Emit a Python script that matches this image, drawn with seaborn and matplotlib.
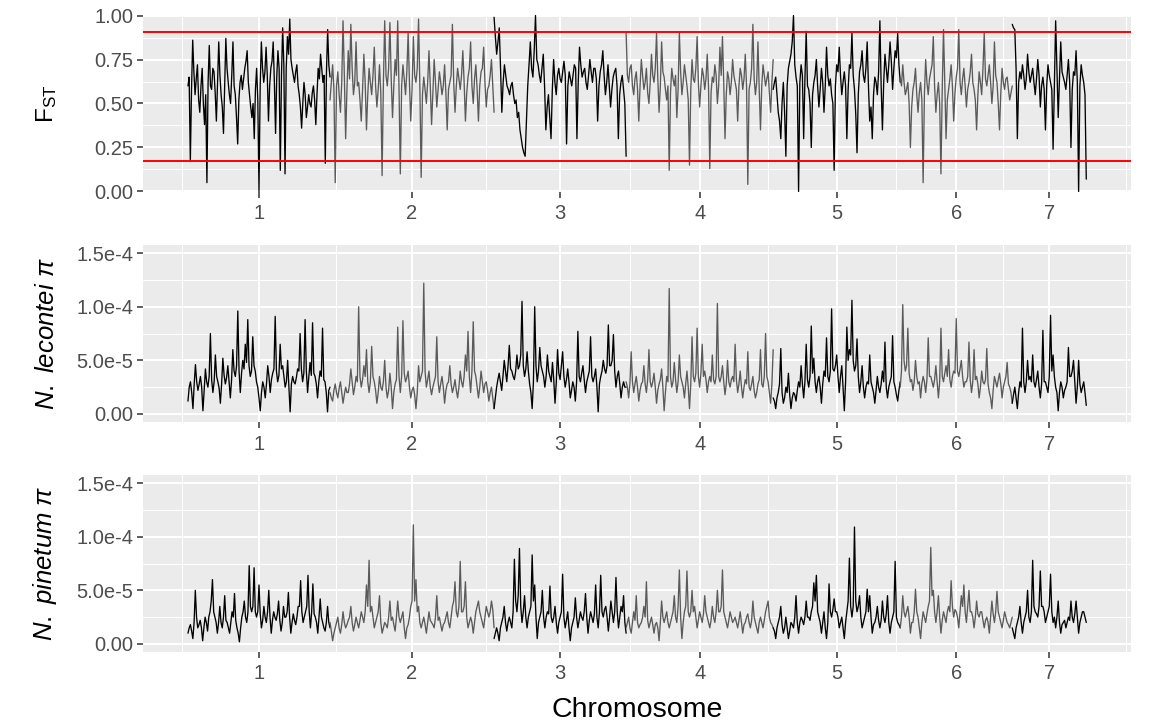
import numpy as np
import pandas as pd
import seaborn as sns
import matplotlib.pyplot as plt
from matplotlib.ticker import FixedLocator

# chromosome layout (Mb)
chrom_names = ["1", "2", "3", "4", "5", "6", "7"]
chrom_len_mb = [42.6, 49.2, 39.6, 44.1, 38.1, 33.6, 22.2]

# FST per window
fst_chr1 = [0.60, 0.65, 0.17, 0.58, 0.86, 0.68, 0.55, 0.64, 0.72, 0.52, 0.45, 0.60, 0.70, 0.50, 0.38, 0.55,
            0.05, 0.62, 0.83, 0.60, 0.58, 0.70, 0.68, 0.56, 0.40, 0.62, 0.85, 0.66, 0.55, 0.48, 0.33, 0.60,
            0.87, 0.70, 0.62, 0.55, 0.50, 0.66, 0.85, 0.60, 0.55, 0.42, 0.27, 0.52, 0.62, 0.66, 0.58, 0.64,
            0.70, 0.74, 0.80, 0.62, 0.55, 0.48, 0.42, 0.50, 0.30, 0.58, 0.70, 0.52, 0.00, 0.60, 0.85, 0.70,
            0.62, 0.68, 0.82, 0.66, 0.40, 0.60, 0.70, 0.74, 0.85, 0.62, 0.33, 0.65, 0.80, 0.70, 0.12, 0.66,
            0.93, 0.72, 0.10, 0.70, 0.88, 0.78, 0.98, 0.75, 0.70, 0.66, 0.62, 0.68, 0.72, 0.60, 0.55, 0.48,
            0.36, 0.50, 0.62, 0.55, 0.42, 0.48, 0.55, 0.50, 0.48, 0.56, 0.60, 0.52, 0.38, 0.55, 0.70, 0.64,
            0.78, 0.70, 0.62, 0.66, 0.16, 0.68, 0.92, 0.72, 0.65]
fst_chr2 = [0.52, 0.62, 0.72, 0.58, 0.05, 0.60, 0.68, 0.55, 0.45, 0.62, 0.97, 0.66, 0.30, 0.58, 0.80, 0.64,
            0.95, 0.70, 0.55, 0.62, 0.85, 0.60, 0.62, 0.52, 0.40, 0.58, 0.78, 0.62, 0.35, 0.55, 0.70, 0.62,
            0.55, 0.66, 0.82, 0.60, 0.48, 0.58, 0.72, 0.56, 0.09, 0.62, 0.97, 0.66, 0.60, 0.70, 0.96, 0.64,
            0.42, 0.60, 0.75, 0.66, 0.97, 0.58, 0.10, 0.60, 0.72, 0.64, 0.55, 0.68, 0.90, 0.62, 0.40, 0.58,
            0.88, 0.66, 0.62, 0.70, 0.98, 0.60, 0.08, 0.55, 0.65, 0.58, 0.50, 0.62, 0.80, 0.60, 0.38, 0.56,
            0.75, 0.62, 0.48, 0.58, 0.68, 0.62, 0.55, 0.60, 0.72, 0.56, 0.35, 0.58, 0.62, 0.66, 0.95, 0.62,
            0.45, 0.60, 0.70, 0.64, 0.58, 0.66, 0.80, 0.62, 0.40, 0.56, 0.65, 0.70, 0.85, 0.60, 0.50, 0.64,
            0.72, 0.58, 0.40, 0.60, 0.68, 0.70, 0.82, 0.62, 0.48, 0.58, 0.60, 0.66, 0.75, 0.60, 0.45]
fst_chr3 = [0.99, 0.88, 0.78, 0.85, 0.93, 0.70, 0.45, 0.62, 0.72, 0.66, 0.60, 0.58, 0.55, 0.60, 0.62, 0.55,
            0.50, 0.52, 0.42, 0.45, 0.35, 0.30, 0.25, 0.22, 0.20, 0.40, 0.60, 0.72, 0.85, 0.70, 0.65, 0.80,
            1.00, 0.75, 0.72, 0.66, 0.62, 0.70, 0.78, 0.60, 0.35, 0.48, 0.55, 0.42, 0.30, 0.58, 0.75, 0.62,
            0.55, 0.66, 0.70, 0.64, 0.62, 0.68, 0.74, 0.66, 0.27, 0.60, 0.68, 0.64, 0.60, 0.66, 0.72, 0.70,
            0.30, 0.62, 0.82, 0.72, 0.65, 0.68, 0.70, 0.62, 0.58, 0.66, 0.75, 0.68, 0.62, 0.70, 0.70, 0.64,
            0.40, 0.60, 0.68, 0.72, 0.80, 0.66, 0.55, 0.62, 0.72, 0.60, 0.48, 0.58, 0.65, 0.68, 0.70, 0.60,
            0.30, 0.55, 0.62, 0.66, 0.58, 0.50, 0.20]
fst_chr4 = [0.90, 0.66, 0.62, 0.70, 0.72, 0.60, 0.55, 0.64, 0.68, 0.58, 0.40, 0.60, 0.75, 0.66, 0.58, 0.62,
            0.70, 0.56, 0.50, 0.62, 0.78, 0.66, 0.62, 0.70, 0.90, 0.64, 0.45, 0.60, 0.85, 0.68, 0.65, 0.58,
            0.52, 0.60, 0.12, 0.56, 0.70, 0.64, 0.60, 0.66, 0.42, 0.58, 0.90, 0.68, 0.55, 0.62, 0.72, 0.66,
            0.60, 0.52, 0.15, 0.58, 0.75, 0.64, 0.62, 0.70, 0.88, 0.62, 0.48, 0.60, 0.70, 0.66, 0.58, 0.64,
            0.78, 0.60, 0.13, 0.56, 0.65, 0.62, 0.72, 0.66, 0.50, 0.60, 0.82, 0.66, 0.88, 0.62, 0.30, 0.55,
            0.68, 0.64, 0.55, 0.62, 0.75, 0.66, 0.62, 0.58, 0.40, 0.60, 0.70, 0.66, 0.58, 0.64, 0.78, 0.60,
            0.04, 0.58, 0.62, 0.70, 0.95, 0.64, 0.55, 0.62, 0.85, 0.58, 0.35, 0.60, 0.72, 0.66, 0.60, 0.64,
            0.68, 0.56, 0.45, 0.62, 0.75]
fst_chr5 = [0.58, 0.62, 0.65, 0.55, 0.45, 0.40, 0.30, 0.50, 0.62, 0.45, 0.20, 0.60, 0.70, 0.74, 0.78, 0.85,
            1.00, 0.72, 0.65, 0.60, 0.00, 0.62, 0.72, 0.66, 0.30, 0.64, 0.91, 0.60, 0.58, 0.50, 0.25, 0.55,
            0.62, 0.66, 0.75, 0.60, 0.48, 0.58, 0.70, 0.62, 0.45, 0.60, 0.82, 0.66, 0.60, 0.64, 0.55, 0.50,
            0.12, 0.60, 0.72, 0.68, 0.82, 0.66, 0.55, 0.62, 0.68, 0.60, 0.30, 0.58, 0.72, 0.70, 0.90, 0.66,
            0.58, 0.44, 0.22, 0.55, 0.68, 0.72, 0.80, 0.66, 0.62, 0.70, 0.85, 0.60, 0.40, 0.48, 0.30, 0.55,
            0.65, 0.62, 0.55, 0.68, 0.97, 0.60, 0.35, 0.62, 0.78, 0.70, 0.62, 0.72, 0.85, 0.74, 0.58, 0.70,
            0.80, 0.76, 0.90, 0.72, 0.62]
fst_chr6 = [0.65, 0.60, 0.72, 0.62, 0.55, 0.58, 0.62, 0.50, 0.25, 0.48, 0.58, 0.62, 0.70, 0.55, 0.45, 0.56,
            0.62, 0.52, 0.05, 0.55, 0.75, 0.62, 0.55, 0.64, 0.68, 0.72, 0.88, 0.60, 0.45, 0.55, 0.62, 0.50,
            0.10, 0.58, 0.92, 0.62, 0.30, 0.52, 0.58, 0.64, 0.72, 0.60, 0.40, 0.56, 0.65, 0.70, 0.92, 0.62,
            0.55, 0.64, 0.70, 0.60, 0.48, 0.58, 0.62, 0.68, 0.78, 0.62, 0.58, 0.52, 0.35, 0.55, 0.68, 0.62,
            0.55, 0.70, 0.90, 0.64, 0.60, 0.66, 0.72, 0.62, 0.50, 0.60, 0.85, 0.66, 0.62, 0.50, 0.35, 0.56,
            0.70, 0.62, 0.58, 0.64, 0.65, 0.58, 0.52, 0.56, 0.60]
fst_chr7 = [0.95, 0.93, 0.92, 0.70, 0.30, 0.62, 0.68, 0.64, 0.72, 0.66, 0.58, 0.64, 0.78, 0.68, 0.62, 0.66,
            0.70, 0.62, 0.55, 0.64, 0.75, 0.66, 0.48, 0.60, 0.65, 0.58, 0.35, 0.60, 0.72, 0.66, 0.62, 0.58,
            0.24, 0.60, 0.97, 0.70, 0.42, 0.64, 0.85, 0.68, 0.65, 0.62, 0.58, 0.66, 0.75, 0.62, 0.25, 0.58,
            0.68, 0.66, 0.80, 0.62, 0.00, 0.60, 0.72, 0.66, 0.62, 0.55, 0.07]
fst_upper = 0.905
fst_lower = 0.172

# N. lecontei nucleotide diversity (x 1e-5)
lec_chr1 = [1.2, 2.5, 3.0, 2.0, 0.5, 2.8, 4.6, 3.0, 2.2, 2.8, 3.5, 2.5, 0.3, 2.2, 4.2, 3.0, 2.5, 3.5, 7.5, 3.2,
            2.0, 3.0, 5.5, 3.5, 3.0, 2.4, 1.0, 2.8, 5.2, 3.6, 2.8, 3.4, 4.5, 3.0, 1.5, 3.2, 6.0, 4.0, 3.5, 4.5,
            9.6, 4.0, 2.0, 3.8, 5.0, 4.2, 6.5, 4.8, 8.8, 4.5, 3.5, 4.0, 7.2, 4.5, 4.0, 3.0, 2.5, 1.5, 0.3, 2.0,
            3.0, 2.5, 1.5, 2.8, 4.5, 3.5, 2.0, 3.2, 3.8, 4.2, 9.1, 4.0, 3.0, 3.6, 6.5, 4.2, 4.5, 3.5, 2.5, 3.0,
            5.0, 2.5, 0.2, 2.8, 3.5, 3.0, 2.8, 3.4, 4.2, 4.0, 7.5, 4.2, 3.0, 3.8, 8.8, 4.0, 2.0, 3.5, 4.8, 3.6,
            8.5, 3.8, 3.5, 2.8, 1.5, 3.0, 4.0, 3.5, 8.0, 3.2, 3.0, 2.0, 0.2, 2.2, 2.5]
lec_chr2 = [2.0, 1.5, 1.2, 2.2, 2.8, 2.0, 1.5, 2.4, 3.0, 2.0, 1.0, 1.8, 2.5, 2.0, 2.0, 2.8, 4.2, 3.0, 1.8, 2.5,
            3.5, 3.0, 10.0, 3.5, 2.5, 3.2, 4.5, 3.5, 6.0, 3.0, 2.0, 3.0, 6.3, 3.5, 3.0, 2.2, 1.0, 2.0, 3.5, 2.5,
            2.2, 3.0, 5.0, 2.5, 1.5, 2.2, 3.8, 2.5, 0.5, 2.0, 2.8, 3.2, 8.1, 3.5, 2.0, 3.5, 8.7, 3.8, 3.0, 3.4,
            4.0, 2.5, 1.5, 2.2, 2.5, 1.8, 0.5, 2.0, 4.5, 3.0, 3.5, 4.0, 12.2, 4.0, 2.5, 3.2, 4.0, 2.5, 1.8, 2.5,
            3.0, 3.5, 7.2, 3.0, 2.0, 2.8, 3.5, 2.5, 1.0, 2.2, 2.8, 3.0, 4.5, 2.8, 2.0, 2.5, 3.2, 2.2, 1.5, 2.5,
            4.0, 3.0, 2.5, 3.5, 5.5, 4.0, 7.7, 3.5, 2.0, 4.0, 8.6, 4.0, 3.5, 2.5, 1.5, 2.5, 4.0, 3.0, 2.0, 2.8,
            3.0, 2.2, 1.2, 2.0, 2.5, 1.5, 0.5]
lec_chr3 = [0.5, 1.5, 2.5, 3.2, 3.8, 3.0, 2.2, 3.5, 5.0, 4.0, 3.0, 4.5, 6.4, 4.2, 4.0, 3.5, 3.2, 4.0, 5.5, 4.2,
            4.5, 5.5, 10.5, 4.5, 3.5, 4.2, 5.8, 4.0, 2.8, 2.0, 0.5, 3.0, 10.0, 4.5, 3.0, 4.0, 6.2, 4.5, 4.0, 3.5,
            2.5, 3.5, 5.5, 4.0, 3.5, 3.0, 4.8, 3.2, 1.0, 3.0, 6.0, 3.8, 3.2, 4.5, 5.8, 3.5, 2.5, 3.2, 4.2, 3.0,
            1.5, 2.2, 3.0, 2.5, 1.2, 3.0, 7.7, 3.5, 3.0, 3.8, 4.5, 3.2, 2.0, 3.0, 3.5, 4.0, 7.2, 3.5, 3.0, 3.5,
            4.2, 2.5, 0.2, 2.8, 3.5, 4.0, 5.0, 4.2, 3.8, 4.5, 8.3, 4.5, 4.5, 5.0, 7.4, 4.0, 2.5, 3.5, 4.0, 2.8,
            1.5, 2.5, 3.0, 2.5, 2.5]
lec_chr4 = [3.0, 2.5, 1.5, 2.8, 5.8, 3.0, 2.0, 2.8, 3.5, 2.5, 1.2, 2.2, 2.8, 3.0, 4.5, 2.8, 2.0, 3.2, 6.0, 3.0,
            2.5, 3.0, 3.8, 2.5, 1.0, 2.2, 2.8, 3.2, 4.2, 2.5, 0.3, 2.0, 3.5, 3.0, 11.7, 3.5, 2.5, 3.0, 4.8, 3.2,
            2.0, 3.0, 5.5, 3.5, 3.0, 2.5, 1.5, 2.8, 4.0, 2.5, 0.5, 2.8, 7.2, 3.5, 3.0, 3.8, 8.0, 3.5, 2.5, 3.8,
            6.5, 3.5, 4.0, 3.2, 2.0, 3.0, 3.5, 3.0, 5.5, 3.2, 2.8, 3.5, 10.3, 3.5, 3.0, 3.5, 4.5, 3.0, 1.8, 2.8,
            5.0, 3.0, 2.5, 3.2, 3.5, 3.0, 6.5, 3.2, 2.0, 2.8, 4.0, 2.5, 1.5, 2.5, 3.2, 2.8, 5.8, 2.5, 2.2, 2.8,
            3.5, 2.2, 1.5, 2.0, 2.8, 3.2, 6.0, 2.8, 2.5, 3.5, 7.5, 3.5, 3.0, 2.0, 1.0, 2.8, 6.0]
lec_chr5 = [1.5, 1.2, 0.5, 1.5, 2.0, 2.8, 6.1, 2.0, 1.0, 1.5, 2.5, 2.0, 3.8, 1.8, 0.5, 1.5, 2.0, 1.8, 1.2, 2.2,
            3.0, 2.5, 4.5, 2.8, 1.5, 3.0, 6.5, 3.2, 2.5, 3.5, 8.2, 3.8, 5.2, 3.0, 2.0, 3.0, 3.5, 2.5, 1.0, 2.8,
            4.0, 3.5, 7.1, 3.5, 3.0, 4.0, 9.8, 4.2, 4.0, 4.5, 5.5, 3.5, 2.0, 3.5, 4.5, 2.5, 0.3, 3.0, 8.1, 5.0,
            6.0, 5.5, 10.6, 5.0, 4.0, 4.5, 7.0, 3.5, 2.0, 3.0, 4.5, 2.5, 1.5, 2.5, 3.0, 2.8, 5.5, 3.0, 2.5, 2.0,
            1.0, 2.2, 3.5, 2.5, 2.0, 2.8, 4.0, 3.0, 6.7, 2.5, 1.5, 2.5, 3.0, 3.5, 7.3, 3.0, 2.5, 1.8, 1.2, 2.2,
            3.0]
lec_chr6 = [2.5, 4.0, 10.2, 5.0, 4.0, 4.5, 8.0, 3.8, 3.0, 3.2, 2.2, 3.0, 5.0, 3.5, 2.8, 3.0, 1.5, 2.8, 3.5, 3.0,
            2.0, 3.2, 7.1, 3.5, 3.5, 3.0, 2.5, 3.2, 4.5, 3.0, 1.5, 3.0, 8.0, 3.5, 3.0, 3.8, 4.5, 3.5, 6.0, 3.2,
            2.5, 3.5, 4.0, 3.8, 8.9, 4.0, 3.5, 4.2, 5.0, 3.5, 2.5, 3.0, 3.0, 3.5, 6.7, 3.2, 2.0, 3.0, 6.0, 3.2,
            3.5, 2.8, 1.5, 2.5, 4.0, 3.0, 2.8, 3.2, 6.1, 2.8, 2.0, 1.5, 0.5, 2.2, 3.5, 3.0, 2.5, 3.2, 3.8, 2.8,
            1.5, 2.5, 3.0, 3.5, 4.8, 2.8, 2.5, 2.0, 1.0]
lec_chr7 = [1.0, 1.8, 2.5, 1.5, 0.5, 2.0, 3.0, 2.5, 8.0, 3.0, 2.0, 3.0, 5.0, 3.2, 3.5, 3.0, 5.5, 3.0, 2.5, 3.2,
            4.0, 2.5, 1.5, 2.8, 7.8, 3.0, 3.0, 2.5, 2.0, 3.5, 9.2, 4.0, 5.5, 3.5, 2.5, 2.0, 0.3, 2.0, 3.0, 2.5,
            1.5, 2.2, 2.5, 3.0, 6.2, 3.5, 3.5, 4.0, 5.0, 3.0, 1.0, 2.5, 5.0, 2.8, 2.0, 2.5, 3.0, 2.0, 0.8]

# N. pinetum nucleotide diversity (x 1e-5)
pin_chr1 = [1.0, 1.5, 1.8, 1.2, 0.5, 2.0, 5.0, 2.5, 1.5, 1.8, 2.2, 1.5, 0.3, 1.5, 2.5, 2.0, 1.2, 2.5, 3.0, 4.0,
            6.0, 3.0, 2.5, 2.0, 1.0, 2.0, 3.5, 2.0, 1.5, 2.5, 4.5, 2.2, 2.0, 1.5, 1.0, 2.0, 3.0, 2.5, 4.7, 2.2,
            1.5, 1.0, 0.2, 1.5, 2.5, 3.0, 4.0, 2.5, 2.0, 3.0, 7.3, 3.5, 3.0, 3.5, 7.1, 3.0, 2.5, 3.0, 5.5, 2.8,
            1.5, 2.2, 3.5, 2.5, 2.0, 3.0, 5.0, 2.5, 1.0, 2.2, 3.0, 2.5, 2.2, 2.8, 4.0, 2.2, 1.2, 2.0, 3.5, 2.5,
            2.5, 3.0, 4.8, 2.5, 1.0, 2.0, 2.8, 2.2, 1.8, 2.5, 3.5, 3.5, 5.9, 3.0, 2.0, 2.5, 3.0, 3.5, 6.4, 3.0,
            1.5, 3.0, 5.6, 2.8, 2.5, 2.0, 1.0, 2.5, 4.2, 2.5, 2.0, 1.5, 1.2, 2.0, 3.5, 2.0, 1.5]
pin_chr2 = [2.0, 1.2, 0.3, 1.0, 1.5, 2.0, 2.5, 1.5, 1.0, 1.8, 3.0, 2.0, 1.5, 1.8, 2.2, 2.5, 3.5, 2.0, 1.2, 1.8,
            2.5, 2.0, 1.5, 2.2, 3.0, 2.5, 2.0, 3.0, 5.5, 3.5, 7.8, 3.0, 3.5, 2.5, 1.5, 2.0, 2.5, 3.0, 4.5, 2.0,
            1.0, 1.5, 2.0, 1.8, 1.5, 2.5, 4.0, 2.2, 2.5, 1.8, 1.2, 2.5, 4.0, 2.5, 2.0, 2.5, 3.0, 1.5, 0.5, 1.5,
            1.8, 2.5, 3.5, 4.0, 11.1, 4.0, 6.0, 3.0, 3.5, 2.0, 1.5, 2.0, 2.5, 1.8, 1.0, 2.0, 3.0, 2.2, 2.0, 1.8,
            1.5, 2.5, 4.5, 2.2, 2.5, 1.8, 1.2, 1.8, 2.0, 2.5, 3.0, 2.0, 1.5, 2.5, 3.5, 4.0, 5.8, 3.0, 2.5, 3.5,
            7.7, 3.0, 3.0, 3.5, 5.8, 2.5, 1.5, 2.0, 2.5, 2.0, 1.0, 2.0, 3.0, 3.5, 4.0, 3.0, 2.5, 2.0, 1.5, 2.5,
            3.5, 3.0, 2.5, 3.0, 4.0, 3.2, 1.5]
pin_chr3 = [0.5, 1.0, 1.5, 1.0, 0.3, 1.5, 2.0, 2.5, 3.5, 2.0, 1.2, 2.0, 2.5, 2.0, 1.5, 3.0, 7.9, 4.0, 3.0, 4.5,
            8.9, 3.5, 2.0, 3.0, 4.5, 2.5, 1.5, 2.5, 3.0, 3.5, 8.3, 4.0, 5.5, 2.5, 0.5, 2.0, 2.5, 3.0, 5.0, 2.5,
            1.5, 2.5, 3.0, 2.8, 5.4, 2.5, 2.0, 2.5, 3.5, 2.0, 1.0, 2.0, 2.5, 3.0, 6.5, 2.5, 1.5, 2.2, 3.0, 1.5,
            0.3, 1.5, 2.0, 2.5, 4.3, 2.5, 1.5, 2.2, 3.0, 2.5, 2.2, 3.0, 4.7, 2.5, 1.0, 2.2, 3.0, 2.5, 2.0, 2.8,
            5.5, 2.5, 1.5, 3.0, 6.4, 3.0, 2.5, 3.2, 3.5, 2.5, 1.2, 2.5, 4.0, 3.0, 2.0, 3.0, 6.2, 3.0, 1.5, 2.5,
            3.5, 3.0, 4.5, 2.0, 1.0]
pin_chr4 = [1.5, 2.0, 2.5, 1.5, 1.0, 2.0, 3.0, 2.2, 4.5, 2.0, 1.5, 1.8, 2.0, 2.5, 3.5, 2.5, 5.8, 2.2, 1.5, 2.0,
            2.5, 1.8, 1.0, 1.8, 2.0, 1.5, 0.3, 2.0, 4.0, 2.5, 2.0, 2.5, 3.0, 2.0, 1.5, 2.0, 2.5, 3.0, 4.5, 2.5,
            2.0, 3.5, 6.9, 2.5, 0.5, 2.0, 3.0, 3.5, 6.8, 3.0, 2.5, 3.0, 5.0, 3.0, 3.5, 2.5, 1.5, 2.2, 3.0, 2.5,
            2.0, 2.8, 4.5, 3.0, 2.5, 2.0, 1.5, 2.2, 3.5, 2.5, 2.0, 3.0, 5.0, 3.0, 3.0, 3.5, 6.9, 3.0, 2.5, 2.0,
            1.5, 2.2, 3.0, 2.5, 2.0, 2.2, 2.5, 2.0, 1.5, 2.2, 3.0, 2.0, 1.0, 1.8, 2.0, 2.5, 2.8, 2.0, 1.5, 2.2,
            4.0, 2.5, 2.0, 1.5, 1.0, 2.0, 2.5, 2.0, 1.5, 2.2, 3.0, 3.5, 4.0, 2.5, 2.0, 1.8, 1.5]
pin_chr5 = [1.5, 1.2, 0.5, 1.5, 2.0, 2.5, 3.5, 1.8, 1.0, 1.5, 2.5, 1.5, 0.5, 1.2, 2.0, 1.8, 1.5, 2.5, 4.5, 2.0,
            1.0, 2.0, 2.5, 2.2, 1.8, 2.5, 4.0, 2.5, 2.5, 2.2, 3.0, 3.5, 5.7, 4.0, 6.4, 3.0, 2.5, 2.0, 1.0, 2.0,
            3.0, 1.5, 0.5, 2.0, 5.6, 3.0, 2.5, 3.2, 4.2, 3.0, 3.0, 2.5, 1.5, 2.0, 2.5, 1.5, 0.5, 2.0, 3.0, 4.0,
            8.0, 3.5, 2.5, 3.5, 10.9, 4.0, 3.0, 3.5, 4.5, 2.5, 1.5, 2.0, 2.5, 3.0, 5.1, 3.0, 4.5, 2.5, 1.0, 1.8,
            2.0, 2.5, 3.5, 2.2, 1.5, 2.2, 4.0, 2.5, 2.0, 2.8, 4.5, 2.0, 1.0, 2.0, 2.5, 3.0, 7.7, 2.5, 2.0, 1.8,
            1.5]
pin_chr6 = [1.5, 2.5, 4.5, 3.0, 2.5, 3.0, 3.5, 2.5, 1.0, 2.0, 2.0, 3.0, 5.1, 3.0, 2.5, 1.5, 0.5, 2.0, 3.0, 2.5,
            2.0, 2.8, 3.5, 4.0, 9.0, 4.5, 5.0, 3.0, 2.0, 3.0, 4.5, 2.5, 1.0, 2.2, 3.0, 2.5, 2.0, 3.0, 3.5, 3.0,
            5.9, 3.5, 2.5, 3.2, 3.0, 2.5, 1.5, 3.0, 4.5, 3.5, 5.5, 3.0, 2.0, 3.5, 5.0, 3.0, 3.0, 2.5, 1.5, 2.5,
            4.0, 2.8, 2.5, 3.0, 3.0, 2.2, 1.5, 2.2, 2.5, 2.0, 1.0, 2.5, 4.0, 2.8, 2.0, 3.0, 4.9, 3.0, 2.5, 2.0,
            1.5, 2.2, 3.0, 2.5, 2.0, 1.8, 1.5, 2.0, 2.5]
pin_chr7 = [1.5, 1.0, 0.5, 1.5, 2.0, 2.5, 3.5, 2.0, 1.0, 2.0, 2.5, 3.0, 5.0, 2.5, 2.0, 3.0, 7.8, 3.5, 3.0, 2.8,
            2.5, 3.5, 6.8, 3.5, 3.5, 3.0, 2.0, 2.5, 3.0, 3.5, 6.5, 3.0, 2.0, 2.5, 1.5, 2.5, 4.0, 2.0, 1.0, 1.8,
            2.0, 2.2, 1.5, 2.0, 2.5, 2.2, 4.0, 2.5, 2.0, 2.8, 4.0, 2.5, 1.0, 2.0, 2.5, 3.0, 3.0, 2.5, 2.0]

fst = [fst_chr1, fst_chr2, fst_chr3, fst_chr4, fst_chr5, fst_chr6, fst_chr7]
lec = [lec_chr1, lec_chr2, lec_chr3, lec_chr4, lec_chr5, lec_chr6, lec_chr7]
pin = [pin_chr1, pin_chr2, pin_chr3, pin_chr4, pin_chr5, pin_chr6, pin_chr7]

chrom_colors = {c: ("black" if i % 2 == 0 else "#5a5a5a") for i, c in enumerate(chrom_names)}


def build_track(values, scale=1.0):
    # windows spread along each chromosome, cumulative genome coordinate
    rows = []
    offset = 0.0
    for name, length, vals in zip(chrom_names, chrom_len_mb, values):
        pos = np.linspace(offset, offset + length, len(vals))
        rows.append(pd.DataFrame({"pos": pos, "val": np.array(vals) * scale, "chrom": name}))
        offset += length
    return pd.concat(rows, ignore_index=True)


fst_df = build_track(fst)
lec_df = build_track(lec, 1e-5)
pin_df = build_track(pin, 1e-5)

starts = np.concatenate([[0], np.cumsum(chrom_len_mb)[:-1]])
mids = starts + np.array(chrom_len_mb) / 2
total = sum(chrom_len_mb)
# ggplot style minor breaks: midpoints, ends extended by the first interval
step = mids[1] - mids[0]
ext = np.concatenate([[mids[0] - step], mids, [mids[-1] + step]])
x_minor = (ext[:-1] + ext[1:]) / 2

sns.set_theme(style="darkgrid", rc={"axes.facecolor": "#EBEBEB", "grid.color": "white"})
plt.rcParams["font.family"] = ["Liberation Sans", "DejaVu Sans"]
plt.rcParams["mathtext.fontset"] = "custom"
plt.rcParams["mathtext.rm"] = "Liberation Sans"
plt.rcParams["mathtext.it"] = "Liberation Sans:italic"

fig = plt.figure(figsize=(11.49, 7.25), dpi=100)
fig.patch.set_facecolor("white")
left, width, height = 0.1245, 0.860, 0.2441
ax_fst = fig.add_axes([left, 0.7352, width, height])
ax_lec = fig.add_axes([left, 0.4179, width, height])
ax_pin = fig.add_axes([left, 0.1007, width, height])

tracks = [
    (ax_fst, fst_df, (-0.003, 1.003), [0, 0.25, 0.5, 0.75, 1.0], ["0.00", "0.25", "0.50", "0.75", "1.00"],
     [0.125, 0.375, 0.625, 0.875], r"$\mathregular{F_{ST}}$", 17.5),
    (ax_lec, lec_df, (-7.5e-6, 1.575e-4), [0, 5e-5, 1e-4, 1.5e-4], ["0.00", "5.0e-5", "1.0e-4", "1.5e-4"],
     [2.5e-5, 7.5e-5, 1.25e-4], r"$\mathit{N.\ lecontei}\ \pi$", 18.5),
    (ax_pin, pin_df, (-7.5e-6, 1.575e-4), [0, 5e-5, 1e-4, 1.5e-4], ["0.00", "5.0e-5", "1.0e-4", "1.5e-4"],
     [2.5e-5, 7.5e-5, 1.25e-4], r"$\mathit{N.\ pinetum}\ \pi$", 18.5),
]

for ax, df, ylim, yt, ytl, ymin, ylab, ysize in tracks:
    sns.lineplot(data=df, x="pos", y="val", hue="chrom", palette=chrom_colors, estimator=None,
                 sort=False, legend=False, linewidth=0.95, ax=ax)
    ax.set_xlim(-0.05 * total, 1.05 * total)
    ax.set_ylim(*ylim)
    ax.set_xticks(mids)
    ax.set_xticklabels(chrom_names)
    ax.xaxis.set_minor_locator(FixedLocator(x_minor))
    ax.set_yticks(yt)
    ax.set_yticklabels(ytl)
    ax.yaxis.set_minor_locator(FixedLocator(ymin))
    ax.grid(which="major", color="white", linewidth=1.5)
    ax.grid(which="minor", color="white", linewidth=0.75)
    ax.set_axisbelow(True)
    for s in ax.spines.values():
        s.set_visible(False)
    ax.tick_params(which="major", length=4.5, width=1.1, color="#333333", labelcolor="#4D4D4D",
                   labelsize=14.5, bottom=True, left=True)
    ax.tick_params(axis="x", which="major", pad=4.5)
    ax.tick_params(axis="y", which="major", pad=2.5)
    ax.tick_params(which="minor", length=0)
    ax.set_xlabel("")
    ax.set_ylabel(ylab, fontsize=ysize, color="black")
    ax.yaxis.set_label_coords(-0.085, 0.5)

ax_fst.axhline(fst_upper, color="#FF0000", linewidth=1.4, zorder=5)
ax_fst.axhline(fst_lower, color="#FF0000", linewidth=1.4, zorder=5)

ax_pin.set_xlabel("Chromosome", fontsize=20.5, color="black", labelpad=10)

fig.savefig("out.png", dpi=100, facecolor="white")
